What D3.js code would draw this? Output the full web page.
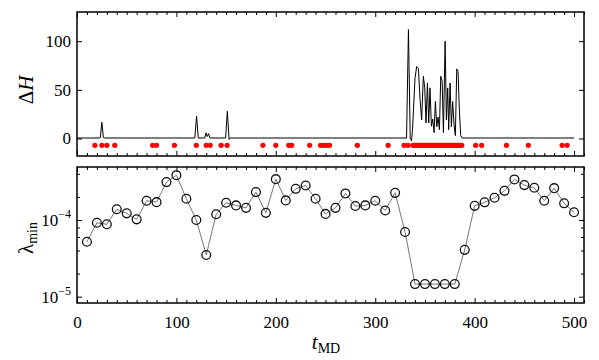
<!DOCTYPE html>
<html>
<head>
<meta charset="utf-8">
<script src="https://cdn.jsdelivr.net/npm/d3@7"></script>
<style>
  body { margin: 0; background: #fff; }
</style>
</head>
<body>
<div class="chart"></div>
<script>
// Data
var xTicks = [0, 100, 200, 300, 400, 500];
var dHTicks = [0, 50, 100];
var lamTicks = [1e-5, 1e-4];
var lamExp = ["−5", "−4"];

// Delta H trace (t, value)
var dHt = [0, 22, 23.5, 25, 26.5, 28, 118.5, 120.3, 122, 128.5, 129.8, 131, 132.4, 133.8, 149.5, 151.2, 153, 154,
  331.5, 333.4, 335.2, 336.5, 337.5, 340, 341.7, 343.4, 345.1, 346.7, 348.4, 349.8, 351.1, 352.5, 353.8, 355.1,
  356.5, 357.8, 359.2, 360.5, 361.9, 363.2, 364.6, 365.9, 367.3, 368.6, 370.3, 371.6, 372.9, 373.9, 375.3,
  376.6, 377.9, 379.3, 380.6, 382, 383.3, 384.7, 386, 387.4, 500];
var dHv = [0.5, 0.5, 1, 16.7, 1, 0.5, 0.5, 23, 0.5, 0.5, 5.8, 2, 5, 0.5, 0.5, 28, -1, 0.5,
  0.5, 112, 0, -2.4, 9, 62, 74, 72, 40, 19, 64, 52, 16, 57, 16, 52,
  12.6, 20, 6, 38, 12, 22, 9, 64, 59, 6, 100, 19, 52, 9, 57,
  12, 38, 14, 3, 71.5, 69, 27, 3, 0.5, 0.5];

// red markers on the Delta H panel
var redT = [18, 25, 30, 38, 76, 80, 98, 120, 130, 134, 145, 151, 187, 200, 213, 216, 234, 245, 248, 251, 254,
  282, 313, 329, 333,
  338, 339, 340, 341, 342, 343, 344, 345, 346, 347, 348, 349, 350, 351, 352, 353, 354, 355, 356, 357,
  358, 359, 360, 361, 362, 363, 364, 365, 366, 367, 368, 369, 370, 371, 372, 373, 374, 375, 376, 377,
  378, 379, 380, 381, 382, 383, 384, 385, 386, 387,
  401, 407, 432, 454, 488, 493];
var redLevel = -7;

// lambda_min every 10 steps
var lamT = [10, 20, 30, 40, 50, 60, 70, 80, 90, 100, 110, 120, 130, 140, 150, 160, 170, 180, 190, 200,
  210, 220, 230, 240, 250, 260, 270, 280, 290, 300, 310, 320, 330, 340, 350, 360, 370, 380, 390, 400,
  410, 420, 430, 440, 450, 460, 470, 480, 490, 500];
var lamV = [5.2e-5, 9.2e-5, 8.8e-5, 1.38e-4, 1.22e-4, 1.02e-4, 1.78e-4, 1.71e-4, 3.12e-4, 3.84e-4,
  1.89e-4, 1.0e-4, 3.5e-5, 1.19e-4, 1.68e-4, 1.55e-4, 1.44e-4, 2.31e-4, 1.24e-4, 3.41e-4,
  1.80e-4, 2.55e-4, 2.82e-4, 1.89e-4, 1.20e-4, 1.44e-4, 2.22e-4, 1.52e-4, 1.55e-4, 1.78e-4,
  1.33e-4, 2.26e-4, 6.98e-5, 1.46e-5, 1.46e-5, 1.46e-5, 1.46e-5, 1.46e-5, 4.08e-5, 1.53e-4,
  1.70e-4, 1.95e-4, 2.40e-4, 3.38e-4, 2.85e-4, 2.63e-4, 1.78e-4, 2.6e-4, 1.65e-4, 1.26e-4];

var svgWidth = 599, svgHeight = 360;
var left = 77, right = 584;
var top1 = 12, bot1 = 156, top2 = 167, bot2 = 303;
var serif = "'Liberation Serif', 'Times New Roman', 'DejaVu Serif'";

var svg = d3.select(".chart").append("svg")
  .attr("width", svgWidth)
  .attr("height", svgHeight)
  .style("font-family", serif);

var x = d3.scaleLinear().domain([0, 510]).range([left, right]);
var y1 = d3.scaleLinear().domain([-18, 130]).range([bot1, top1]);
var y2 = d3.scaleLog().domain([8.27e-6, 4.91e-4]).range([bot2, top2]);

var minorX = d3.range(0, 511, 10).filter(d => d % 100 !== 0);

function styleAxis(g) {
  g.attr("font-family", null);
  g.select(".domain").remove();
  g.selectAll("line").attr("stroke", "#000").attr("stroke-width", 1);
  g.selectAll("text").attr("font-size", 17).attr("fill", "#000");
}

function xFrame(top, bot, labels) {
  // major + minor ticks on bottom and top edges, pointing inward
  svg.append("g").attr("transform", `translate(0,${bot})`)
    .call(d3.axisBottom(x).tickValues(minorX).tickSize(-3).tickFormat(""))
    .call(styleAxis);
  svg.append("g").attr("transform", `translate(0,${top})`)
    .call(d3.axisTop(x).tickValues(minorX).tickSize(-3).tickFormat(""))
    .call(styleAxis);
  svg.append("g").attr("transform", `translate(0,${top})`)
    .call(d3.axisTop(x).tickValues(xTicks).tickSize(-5).tickFormat(""))
    .call(styleAxis);
  svg.append("g").attr("transform", `translate(0,${bot})`)
    .call(d3.axisBottom(x).tickValues(xTicks).tickSize(-5).tickPadding(13)
      .tickFormat(labels ? d3.format("d") : ""))
    .call(styleAxis);
}

// ---- top panel: Delta H ----
xFrame(top1, bot1, false);
svg.append("g").attr("transform", `translate(${left},0)`)
  .call(d3.axisLeft(y1).tickValues(dHTicks).tickSize(-5).tickPadding(6))
  .call(styleAxis);
svg.append("g").attr("transform", `translate(${right},0)`)
  .call(d3.axisRight(y1).tickValues(dHTicks).tickSize(-5).tickFormat(""))
  .call(styleAxis);

var dH = dHt.map((t, i) => [t, dHv[i]]);
svg.append("path")
  .datum(dH)
  .attr("fill", "none")
  .attr("stroke", "#000")
  .attr("stroke-width", 1)
  .attr("d", d3.line().x(d => x(d[0])).y(d => y1(d[1])));

svg.append("g").selectAll("circle")
  .data(redT)
  .enter()
  .append("circle")
  .attr("cx", d => x(d))
  .attr("cy", y1(redLevel))
  .attr("r", 2.6)
  .attr("fill", "#ff0000");

svg.append("rect")
  .attr("x", left).attr("y", top1)
  .attr("width", right - left).attr("height", bot1 - top1)
  .attr("fill", "none").attr("stroke", "#000").attr("stroke-width", 1.5);

// ---- bottom panel: lambda_min ----
xFrame(top2, bot2, true);
var minorY = [2e-5, 4e-5, 6e-5, 8e-5, 2e-4, 4e-4];
[[left, d3.axisLeft], [right, d3.axisRight]].forEach(function(s) {
  svg.append("g").attr("transform", `translate(${s[0]},0)`)
    .call(s[1](y2).tickValues(minorY).tickSize(-3).tickFormat(""))
    .call(styleAxis);
  svg.append("g").attr("transform", `translate(${s[0]},0)`)
    .call(s[1](y2).tickValues(lamTicks).tickSize(-5).tickFormat(""))
    .call(styleAxis);
});

// log labels 10^-n
lamTicks.forEach(function(v, i) {
  var t = svg.append("text")
    .attr("x", left - 6)
    .attr("y", y2(v) + 6)
    .attr("text-anchor", "end")
    .attr("font-size", 17)
    .attr("fill", "#000");
  t.append("tspan").text("10");
  t.append("tspan").attr("dy", -8).attr("font-size", 12).text(lamExp[i]);
});

var lam = lamT.map((t, i) => [t, lamV[i]]);
svg.append("path")
  .datum(lam)
  .attr("fill", "none")
  .attr("stroke", "#666")
  .attr("stroke-width", 0.9)
  .attr("d", d3.line().x(d => x(d[0])).y(d => y2(d[1])));

svg.append("g").selectAll("circle")
  .data(lam)
  .enter()
  .append("circle")
  .attr("cx", d => x(d[0]))
  .attr("cy", d => y2(d[1]))
  .attr("r", 4.4)
  .attr("fill", "none")
  .attr("stroke", "#111")
  .attr("stroke-width", 1.3);

svg.append("rect")
  .attr("x", left).attr("y", top2)
  .attr("width", right - left).attr("height", bot2 - top2)
  .attr("fill", "none").attr("stroke", "#000").attr("stroke-width", 1.5);

// axis labels
svg.append("text")
  .attr("transform", "translate(33, 90) rotate(-90)")
  .attr("text-anchor", "middle")
  .attr("font-size", 21)
  .attr("fill", "#000")
  .html('Δ<tspan font-style="italic">H</tspan>');

var lamLab = svg.append("text")
  .attr("transform", "translate(33, 238) rotate(-90)")
  .attr("text-anchor", "middle")
  .attr("font-size", 21)
  .attr("fill", "#000");
lamLab.append("tspan").text("λ");
lamLab.append("tspan").attr("font-size", 14).attr("dy", 4).text("min");

var tLab = svg.append("text")
  .attr("x", 326)
  .attr("y", 349)
  .attr("text-anchor", "middle")
  .attr("font-size", 21)
  .attr("fill", "#000");
tLab.append("tspan").attr("font-style", "italic").text("t");
tLab.append("tspan").attr("font-size", 14).attr("dy", 4).text("MD");
</script>
</body>
</html>
